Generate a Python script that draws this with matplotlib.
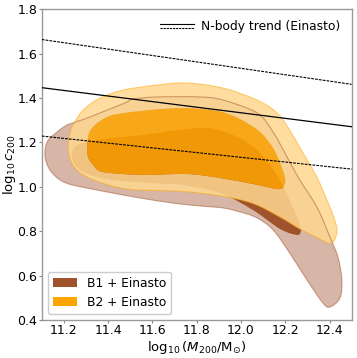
import numpy as np
import matplotlib
matplotlib.use("Agg")
import matplotlib.pyplot as plt
from matplotlib.path import Path
from matplotlib.patches import PathPatch, Patch
from matplotlib.lines import Line2D
from matplotlib.legend_handler import HandlerBase

# ---------------- data ----------------
# B1 + Einasto, 95% contour
b1_outer_m = [11.115, 11.124, 11.169, 11.214, 11.241, 11.318, 11.395, 11.485, 11.512, 11.621,
              11.815, 11.919, 12.073, 12.145, 12.208, 12.266, 12.343, 12.402, 12.438, 12.456,
              12.447, 12.402, 12.370, 12.298, 12.220, 12.145, 12.073, 11.996, 11.919, 11.815,
              11.693, 11.544, 11.395, 11.241, 11.183, 11.137]
b1_outer_c = [1.135, 1.202, 1.247, 1.279, 1.288, 1.315, 1.346, 1.382, 1.396, 1.405,
              1.405, 1.391, 1.333, 1.247, 1.135, 1.031, 0.909, 0.774, 0.684, 0.581,
              0.499, 0.459, 0.477, 0.581, 0.702, 0.806, 0.860, 0.887, 0.905, 0.914,
              0.927, 0.950, 0.977, 1.008, 1.031, 1.076]
# B1 + Einasto, 68% contour
b1_inner_m = [11.237, 11.255, 11.296, 11.408, 11.557, 11.711, 11.860, 11.995, 12.095, 12.176,
              12.230, 12.262, 12.271, 12.253, 12.176, 12.054, 11.905, 11.725, 11.634, 11.408,
              11.296, 11.250, 11.236]
b1_inner_c = [1.160, 1.186, 1.200, 1.220, 1.234, 1.256, 1.265, 1.220, 1.144, 1.031,
              0.918, 0.842, 0.801, 0.783, 0.810, 0.895, 0.972, 1.010, 1.014, 1.032,
              1.062, 1.098, 1.130]
# B2 + Einasto, 95% contour
b2_outer_m = [11.219, 11.228, 11.241, 11.287, 11.363, 11.467, 11.621, 11.756, 11.919, 12.073,
              12.163, 12.220, 12.280, 12.343, 12.388, 12.416, 12.434, 12.420, 12.393, 12.348,
              12.266, 12.176, 12.054, 11.905, 11.725, 11.485, 11.332, 11.259, 11.228]
b2_outer_c = [1.189, 1.243, 1.279, 1.346, 1.400, 1.436, 1.459, 1.468, 1.445, 1.391,
              1.333, 1.256, 1.153, 1.044, 0.941, 0.873, 0.806, 0.756, 0.747, 0.770,
              0.810, 0.864, 0.925, 0.960, 0.980, 0.990, 1.032, 1.075, 1.125]
# B2 + Einasto, 68% contour
b2_inner_m = [11.305, 11.314, 11.341, 11.386, 11.440, 11.589, 11.738, 11.892, 11.995, 12.086,
              12.145, 12.176, 12.199, 12.194, 12.167, 12.054, 11.905, 11.756, 11.557, 11.377,
              11.332, 11.309]
b2_inner_c = [1.189, 1.243, 1.279, 1.310, 1.328, 1.346, 1.355, 1.342, 1.306, 1.247,
              1.175, 1.108, 1.040, 1.004, 0.990, 1.013, 1.040, 1.058, 1.054, 1.067,
              1.099, 1.135]

# N-body trend (Einasto): mean relation and scatter band
trend_m = [11.1, 12.5]
trend_mean = [1.447, 1.271]
trend_hi = [1.664, 1.462]
trend_lo = [1.229, 1.080]

labels = ["B1 + Einasto", "B2 + Einasto"]
trend_label = "N-body trend (Einasto)"
xticks = [11.2, 11.4, 11.6, 11.8, 12.0, 12.2, 12.4]
yticks = [0.4, 0.6, 0.8, 1.0, 1.2, 1.4, 1.6, 1.8]

# ---------------- helpers ----------------
def smooth_closed(xs, ys):
    """Closed smooth Bezier path passing through the given contour vertices."""
    P = np.column_stack([xs, ys]).astype(float)
    n = len(P)
    verts = [P[0]]
    codes = [Path.MOVETO]
    for i in range(n):
        p0, p1, p2, p3 = P[i - 1], P[i], P[(i + 1) % n], P[(i + 2) % n]
        c1 = p1 + (p2 - p0) / 6.0
        c2 = p2 - (p3 - p1) / 6.0
        verts += [c1, c2, p2]
        codes += [Path.CURVE4] * 3
    return np.array(verts), codes

def area(xs, ys):
    x = np.asarray(xs); y = np.asarray(ys)
    return 0.5 * np.sum(x * np.roll(y, -1) - np.roll(x, -1) * y)

def ring_path(om, oc, im, ic):
    if np.sign(area(om, oc)) == np.sign(area(im, ic)):
        im, ic = im[::-1], ic[::-1]
    v1, c1 = smooth_closed(om, oc)
    v2, c2 = smooth_closed(im, ic)
    return Path(np.vstack([v1, v2]), c1 + c2)

def core_path(m, c):
    v, cd = smooth_closed(m, c)
    return Path(v, cd)

class HandlerTwoLines(HandlerBase):
    def create_artists(self, legend, orig_handle, xdescent, ydescent,
                       width, height, fontsize, trans):
        yc = height / 2.0 - ydescent
        d = 0.22 * height
        l1 = Line2D([-xdescent, width - xdescent], [yc + d, yc + d],
                    color="black", lw=0.8, transform=trans)
        l2 = Line2D([-xdescent, width - xdescent], [yc - d, yc - d],
                    color="black", lw=0.8, ls=(0, (2.0, 0.8)), transform=trans)
        return [l1, l2]

# ---------------- figure ----------------
plt.rcParams["font.family"] = ["DejaVu Sans"]
fig = plt.figure(figsize=(3.57, 3.58), dpi=100)
ax = fig.add_axes([0.117, 0.106, 0.868, 0.868])

sienna = "#A0522D"
orange = "#FFA500"

# B1
ax.add_patch(PathPatch(ring_path(b1_outer_m, b1_outer_c, b1_inner_m, b1_inner_c),
                       facecolor=sienna, alpha=0.42, edgecolor="none", zorder=1))
ax.add_patch(PathPatch(core_path(b1_inner_m, b1_inner_c),
                       facecolor=sienna, alpha=1.0, edgecolor="none", zorder=1.1))
# B2
ax.add_patch(PathPatch(ring_path(b2_outer_m, b2_outer_c, b2_inner_m, b2_inner_c),
                       facecolor="#FFD890", alpha=0.85, edgecolor="none", zorder=2))
ax.add_patch(PathPatch(core_path(b2_inner_m, b2_inner_c),
                       facecolor=orange, alpha=0.85, edgecolor="none", zorder=2.1))
# contour edges
ax.add_patch(PathPatch(core_path(b1_outer_m, b1_outer_c), facecolor="none",
                       edgecolor=sienna, alpha=0.5, lw=0.8, zorder=3))
ax.add_patch(PathPatch(core_path(b2_outer_m, b2_outer_c), facecolor="none",
                       edgecolor=orange, alpha=0.5, lw=0.8, zorder=3))

# N-body trend
ax.plot(trend_m, trend_mean, color="black", lw=0.9, zorder=4)
ax.plot(trend_m, trend_hi, color="black", lw=0.8, ls=(0, (2.5, 1.0)), zorder=4)
ax.plot(trend_m, trend_lo, color="black", lw=0.8, ls=(0, (2.5, 1.0)), zorder=4)

ax.set_xlim(11.1, 12.5)
ax.set_ylim(0.4, 1.8)
ax.set_xticks(xticks)
ax.set_yticks(yticks)
ax.set_xticklabels([f"{t:.1f}" for t in xticks])
ax.set_yticklabels([f"{t:.1f}" for t in yticks])
ax.tick_params(labelsize=9, color="#888888", length=2, width=0.8, pad=1.2)
for s in ax.spines.values():
    s.set_color("#999999")
    s.set_linewidth(1.0)

ax.set_xlabel(r"$\log_{10}(M_{200}/\mathrm{M}_{\odot})$", fontsize=9.5)
ax.set_ylabel(r"$\log_{10}c_{200}$", fontsize=9.5)
ax.xaxis.set_label_coords(0.5, -0.06)
ax.yaxis.set_label_coords(-0.078, 0.5)

# legends
leg1 = ax.legend([object()], [trend_label], handler_map={object: HandlerTwoLines()},
                 loc="upper right", frameon=False, fontsize=8.8, handlelength=2.8,
                 handletextpad=0.6)
ax.add_artist(leg1)
handles = [Patch(facecolor=sienna, edgecolor="none"),
           Patch(facecolor=orange, edgecolor="none")]
ax.legend(handles, labels, loc="lower left", fontsize=8.8, frameon=True,
          edgecolor="#cccccc", framealpha=1.0)

fig.savefig("out.png", dpi=100)
